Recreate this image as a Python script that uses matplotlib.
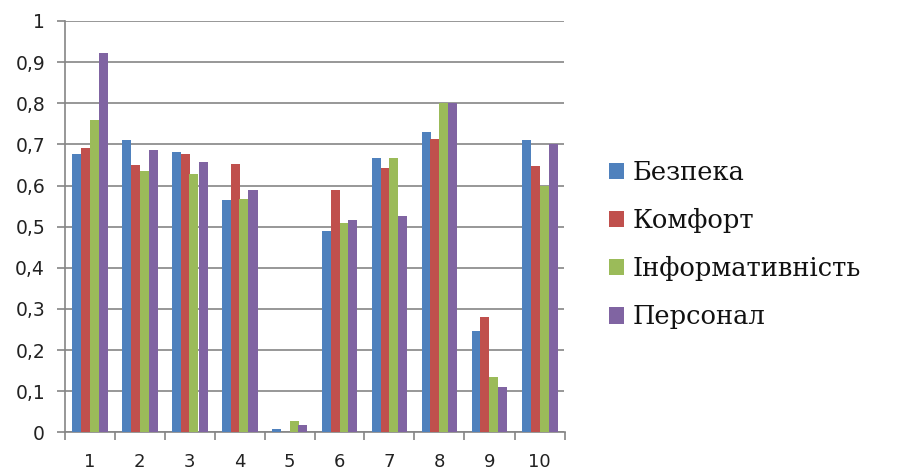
import matplotlib
matplotlib.use("Agg")
import matplotlib.pyplot as plt
import numpy as np
from matplotlib.patches import Patch

categories = ["1", "2", "3", "4", "5", "6", "7", "8", "9", "10"]
series_names = ["Безпека", "Комфорт", "Інформативність", "Персонал"]
bezpeka = [0.677, 0.710, 0.681, 0.565, 0.008, 0.490, 0.668, 0.731, 0.247, 0.710]
komfort = [0.692, 0.651, 0.677, 0.652, 0.000, 0.589, 0.643, 0.714, 0.280, 0.648]
informat = [0.760, 0.635, 0.627, 0.568, 0.027, 0.510, 0.668, 0.800, 0.134, 0.600]
personal = [0.923, 0.686, 0.656, 0.590, 0.018, 0.515, 0.527, 0.800, 0.110, 0.700]
yticks = [0, 0.1, 0.2, 0.3, 0.4, 0.5, 0.6, 0.7, 0.8, 0.9, 1]
ytick_labels = ["0", "0,1", "0,2", "0,3", "0,4", "0,5", "0,6", "0,7", "0,8", "0,9", "1"]

colors = ["#4F81BD", "#C0504D", "#9BBB59", "#8064A2"]
series = [bezpeka, komfort, informat, personal]

W, H = 898, 470
fig = plt.figure(figsize=(W / 100, H / 100), dpi=100)
ax = fig.add_axes([64.5 / W, (H - 432.3) / H, 500 / W, (432.3 - 21.0) / H])

x = np.arange(len(categories))
bw = 0.18
for i, (vals, c) in enumerate(zip(series, colors)):
    ax.bar(x + (i - 1.5) * bw, vals, width=bw, color=c, zorder=3, linewidth=0)

ax.set_xlim(-0.5, len(categories) - 0.5)
ax.set_ylim(0, 1)
ax.set_yticks(yticks)
ax.set_yticklabels(ytick_labels)
ax.yaxis.grid(True, color="#858585", linewidth=1.2, zorder=0)
ax.set_axisbelow(True)

ax.set_xticks(x)
ax.set_xticklabels(categories)
ax.set_xticks(np.arange(-0.5, len(categories)), minor=True)
ax.tick_params(axis="x", which="major", length=0, pad=15, labelsize=13, labelcolor="#222222")
ax.tick_params(axis="x", which="minor", length=6, width=1.2, color="#858585", direction="out")
ax.tick_params(axis="y", which="major", length=6, width=1.2, color="#858585", pad=8,
               labelsize=13.5, labelcolor="#222222")

for s in ["top", "right"]:
    ax.spines[s].set_visible(False)
for s in ["left", "bottom"]:
    ax.spines[s].set_color("#858585")
    ax.spines[s].set_linewidth(1.2)

handles = [Patch(facecolor=c, edgecolor="none") for c in colors]
leg = fig.legend(handles, series_names, loc="upper left", bbox_to_anchor=(609 / W, 1 - 160 / H),
                 frameon=False, prop={"family": "DejaVu Serif", "size": 18.5},
                 handlelength=0.6, handleheight=0.6, handletextpad=0.3,
                 labelspacing=0.9, borderpad=0, borderaxespad=0)
for t in leg.get_texts():
    t.set_color("#111111")

fig.savefig("out.png", dpi=100)
